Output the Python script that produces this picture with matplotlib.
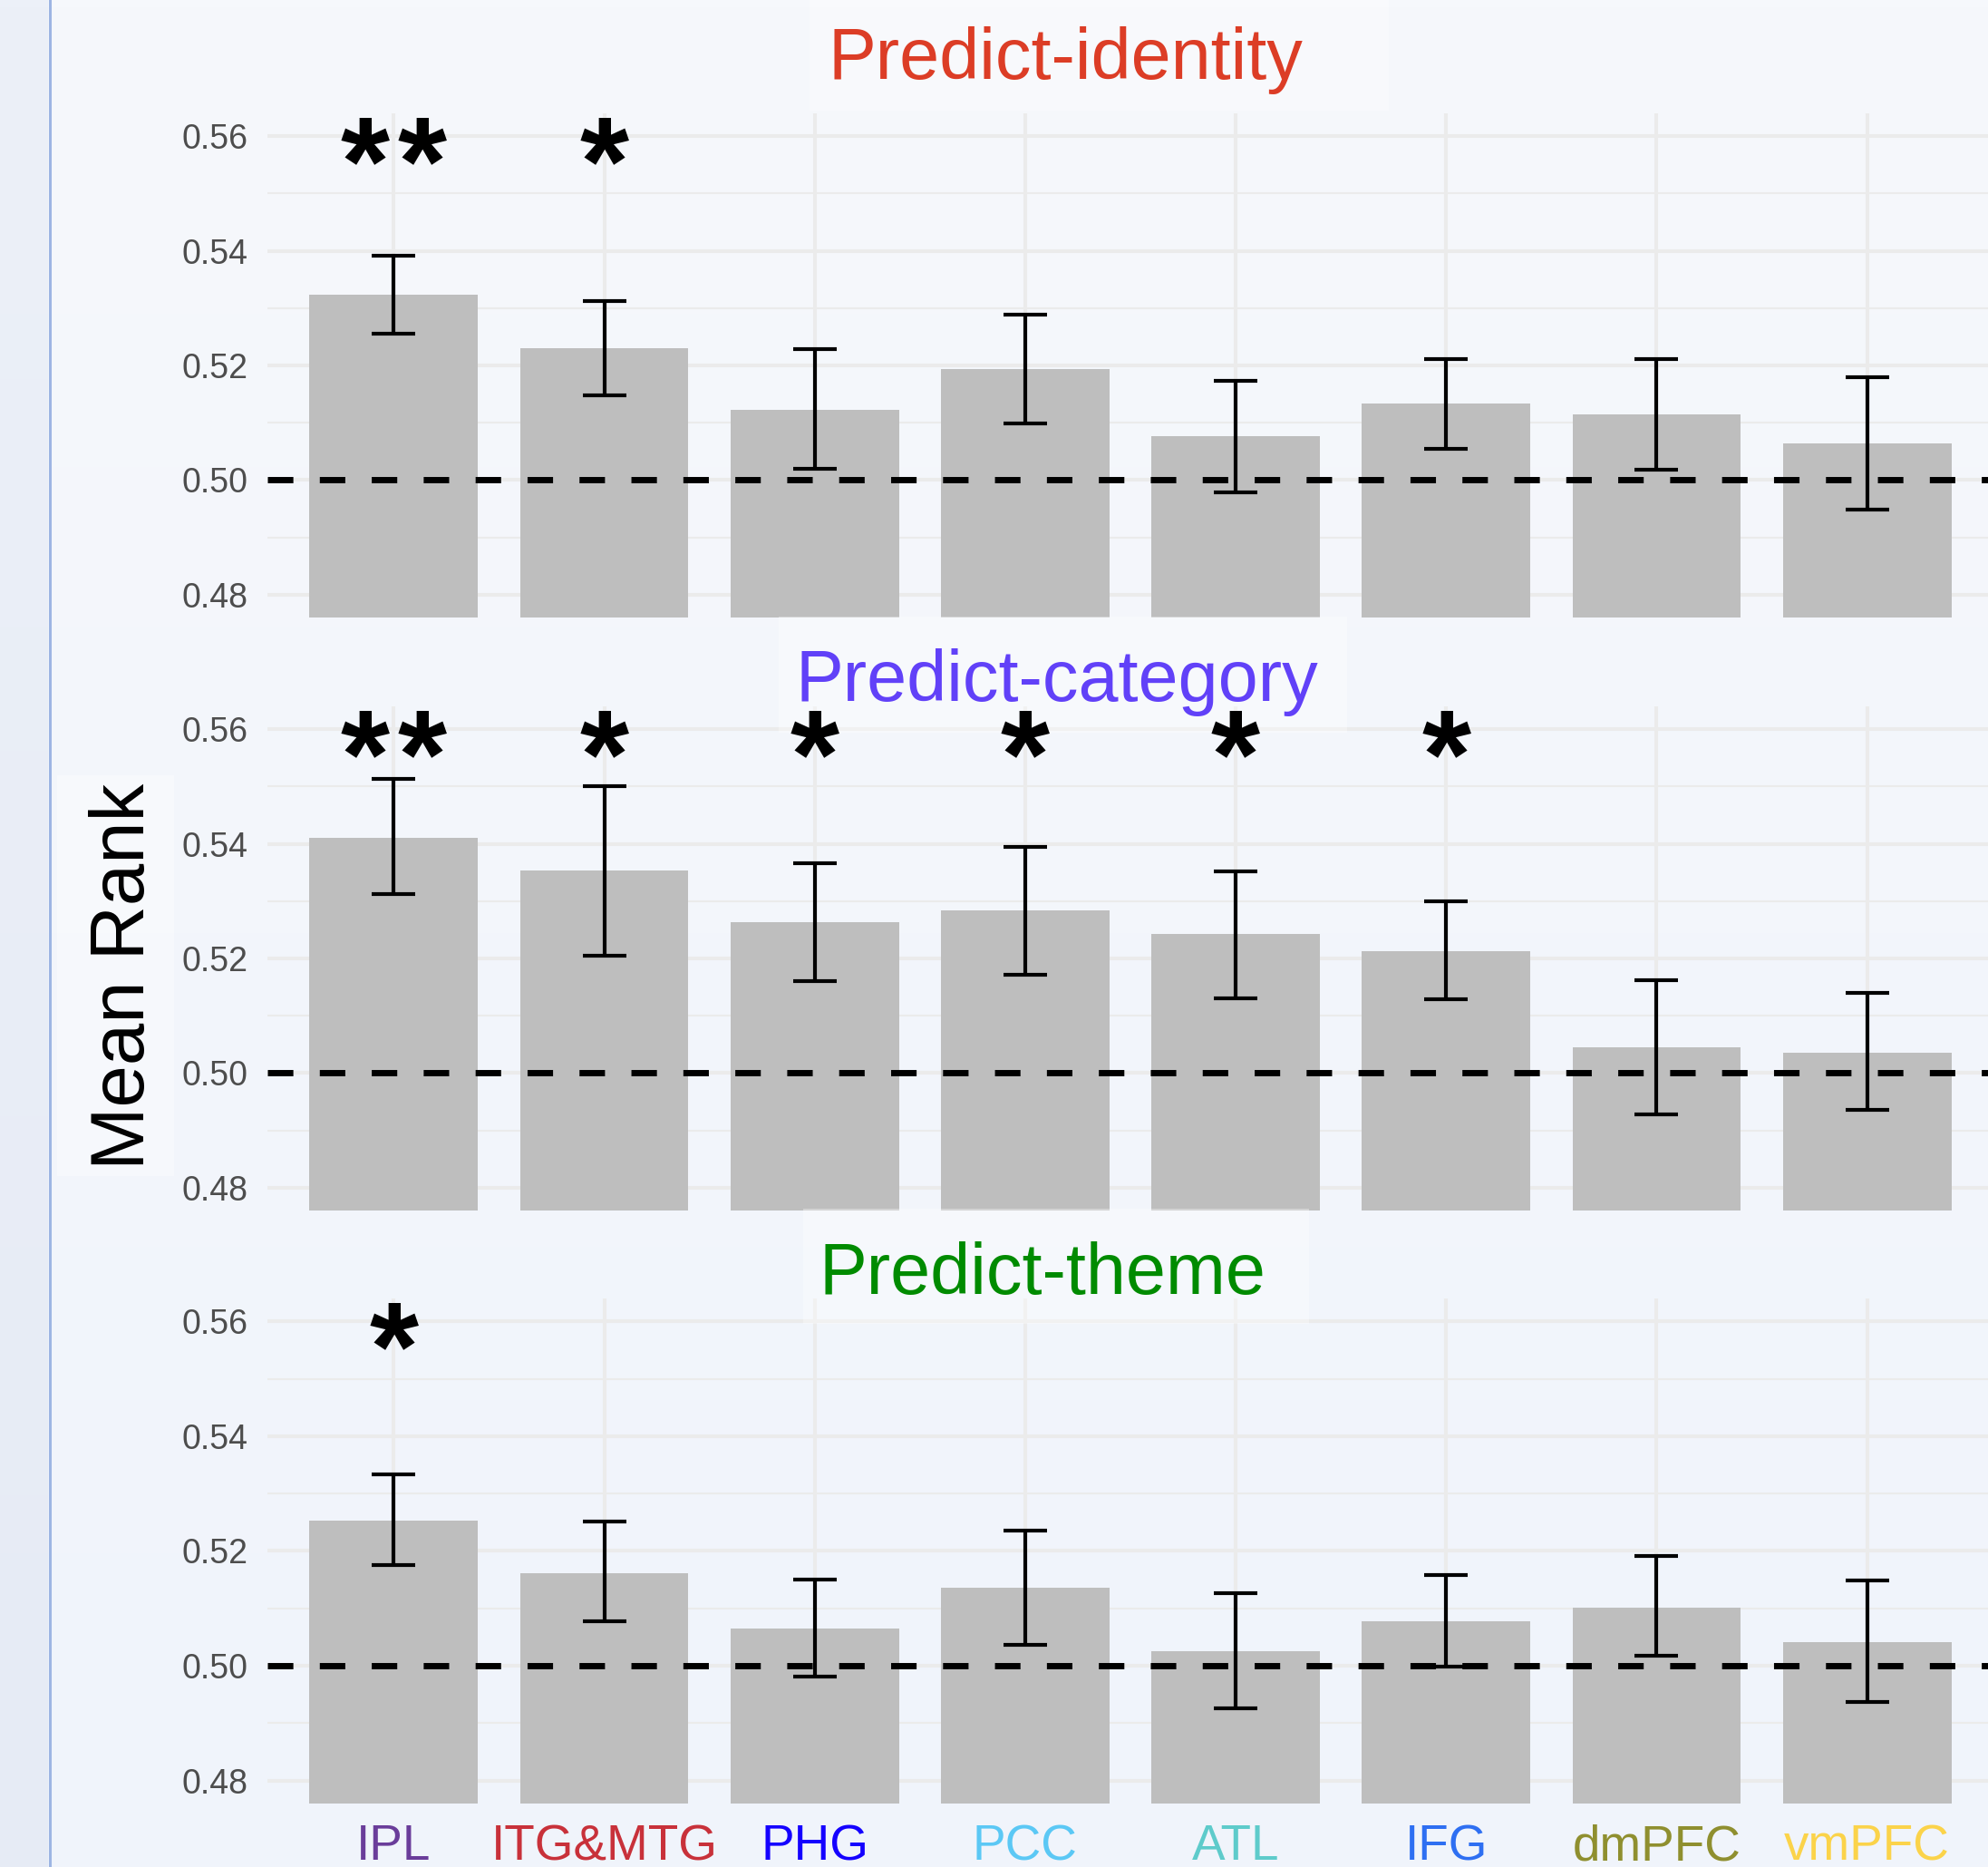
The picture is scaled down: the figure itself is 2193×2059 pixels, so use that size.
import numpy as np
import matplotlib
matplotlib.use("Agg")
import matplotlib.pyplot as plt
import matplotlib.transforms as mtrans
from matplotlib.patches import Rectangle

W, H = 2193, 2059

regions = ["IPL", "ITG&MTG", "PHG", "PCC", "ATL", "IFG", "dmPFC", "vmPFC"]
region_colors = ["#6a3d9a", "#c8313a", "#1400ff", "#5bc8f5",
                 "#5ecbcb", "#2e6ff2", "#8f8f2f", "#fbd34a"]

titles = ["Predict-identity", "Predict-category", "Predict-theme"]
title_colors = ["#dc3d26", "#6141f8", "#008b00"]

identity_mean = [0.5324, 0.5230, 0.5122, 0.5193, 0.5076, 0.5133, 0.5115, 0.5064]
identity_lo = [0.5256, 0.5147, 0.5020, 0.5098, 0.4978, 0.5055, 0.5018, 0.4948]
identity_hi = [0.5392, 0.5312, 0.5229, 0.5289, 0.5173, 0.5211, 0.5211, 0.5180]
identity_sig = ["**", "*", "", "", "", "", "", ""]

category_mean = [0.5411, 0.5354, 0.5263, 0.5284, 0.5242, 0.5213, 0.5045, 0.5036]
category_lo = [0.5313, 0.5204, 0.5161, 0.5171, 0.5131, 0.5129, 0.4928, 0.4935]
category_hi = [0.5513, 0.5501, 0.5366, 0.5394, 0.5352, 0.5299, 0.5162, 0.5140]
category_sig = ["**", "*", "*", "*", "*", "*", "", ""]

theme_mean = [0.5253, 0.5162, 0.5065, 0.5136, 0.5025, 0.5078, 0.5101, 0.5041]
theme_lo = [0.5176, 0.5078, 0.4981, 0.5036, 0.4926, 0.4999, 0.5017, 0.4937]
theme_hi = [0.5333, 0.5251, 0.5151, 0.5235, 0.5127, 0.5158, 0.5191, 0.5149]
theme_sig = ["*", "", "", "", "", "", "", ""]

panels = [
    (identity_mean, identity_lo, identity_hi, identity_sig),
    (category_mean, category_lo, category_hi, category_sig),
    (theme_mean, theme_lo, theme_hi, theme_sig),
]

# layout in pixels of the final image (y counted from the top)
PANEL_X = (295, 2199)
PANEL_Y = [(125, 681), (779, 1335), (1432, 1989)]
TITLE_POS = [(1175, 87), (1166, 773), (1150, 1427)]
TITLE_BOX = [(893, 0, 1532, 122), (859, 680, 1486, 808), (886, 1333, 1444, 1460)]
LABEL_BASELINE = 2051

FONT = "Liberation Sans"
plt.rcParams["font.family"] = [FONT, "DejaVu Sans"]

STAR_SIZE = 100
STAR_STEP = 0.27  # spacing between two stars, in category units


def fx(x):
    return x / W


def fy(y):
    return 1 - y / H


fig = plt.figure(figsize=(W / 100, H / 100), dpi=100)

# background: soft vertical gradient, darker strip on the left
bg = fig.add_axes([0, 0, 1, 1], zorder=-10)
bg.axis("off")


def gradient(top, bottom):
    t = np.array(matplotlib.colors.to_rgb(top))
    b = np.array(matplotlib.colors.to_rgb(bottom))
    k = np.linspace(0, 1, 256)[:, None, None]
    return t * (1 - k) + b * k


bg.imshow(gradient("#f6f8fc", "#f0f4fb"), extent=[0, W, H, 0], aspect="auto")
bg.imshow(gradient("#ecf0f8", "#e6ebf5"), extent=[0, 53, H, 0], aspect="auto")
bg.axvline(54.5, color="#9db5e3", lw=2.2)
bg.set_xlim(0, W)
bg.set_ylim(H, 0)

box_color = (1, 1, 1, 0.35)

x = np.arange(len(regions))
axes = []
for i, (mean, lo, hi, sig) in enumerate(panels):
    top, bottom = PANEL_Y[i]
    ax = fig.add_axes([fx(PANEL_X[0]), fy(bottom),
                       (PANEL_X[1] - PANEL_X[0]) / W, (bottom - top) / H])
    ax.patch.set_visible(False)
    for s in ax.spines.values():
        s.set_visible(False)
    ax.set_xlim(-0.6, len(regions) - 0.4)
    ax.set_ylim(0.476, 0.564)

    ax.set_axisbelow(True)
    ax.set_yticks([0.48, 0.50, 0.52, 0.54, 0.56])
    ax.set_yticks([0.49, 0.51, 0.53, 0.55], minor=True)
    ax.set_xticks(x)
    ax.set_xticklabels([])
    ax.grid(True, which="major", color="#ebebeb", lw=2.9)
    ax.grid(True, which="minor", axis="y", color="#ebebeb", lw=1.5)
    ax.tick_params(axis="both", which="both", length=0)
    ax.tick_params(axis="y", labelsize=27, labelcolor="#4d4d4d", pad=15.5)

    mean = np.array(mean)
    err = [mean - np.array(lo), np.array(hi) - mean]
    ax.bar(x, mean, width=0.8, color="#bebebe", zorder=1)
    ax.axhline(0.5, color="black", lw=5.0, dashes=(4.05, 4.2), zorder=3)
    ax.errorbar(x, mean, yerr=err, fmt="none", ecolor="black",
                elinewidth=3.0, capsize=17, capthick=3.0, zorder=4)

    star_tr = mtrans.offset_copy(ax.transData, fig=fig, y=-0.54 * STAR_SIZE,
                                 units="points")
    for xi, s in zip(x, sig):
        n = len(s)
        for k in range(n):
            sx = xi + (k - (n - 1) / 2) * STAR_STEP
            ax.text(sx, 0.56, "*", ha="center", va="baseline",
                    fontsize=STAR_SIZE, fontweight="bold", color="black",
                    transform=star_tr, zorder=6)

    x0, y0, x1, y1 = TITLE_BOX[i]
    ax.add_patch(Rectangle((fx(x0), fy(y1)), (x1 - x0) / W, (y1 - y0) / H,
                           transform=fig.transFigure, facecolor=box_color,
                           edgecolor="none", clip_on=False, zorder=2))
    axes.append(ax)

for i, title in enumerate(titles):
    tx, ty = TITLE_POS[i]
    fig.text(fx(tx), fy(ty), title, ha="center", va="baseline",
             fontsize=57, color=title_colors[i])

# region names under the last panel
ax3 = axes[-1]
top, bottom = PANEL_Y[-1]
yl = -(LABEL_BASELINE - bottom) / (bottom - top)
for xi, name, c in zip(x, regions, region_colors):
    ax3.text(xi, yl, name, ha="center", va="baseline", fontsize=39.5,
             color=c, transform=ax3.get_xaxis_transform(), clip_on=False)

# y label with its light box
fig.patches.append(Rectangle((fx(63), fy(1297)), (192 - 63) / W, (1297 - 855) / H,
                             transform=fig.transFigure, facecolor=box_color,
                             edgecolor="none"))
fig.text(fx(137), fy(1077), "Mean Rank", rotation=90, ha="center",
         va="center", fontsize=60, color="black")

fig.savefig("out.png", dpi=100)
